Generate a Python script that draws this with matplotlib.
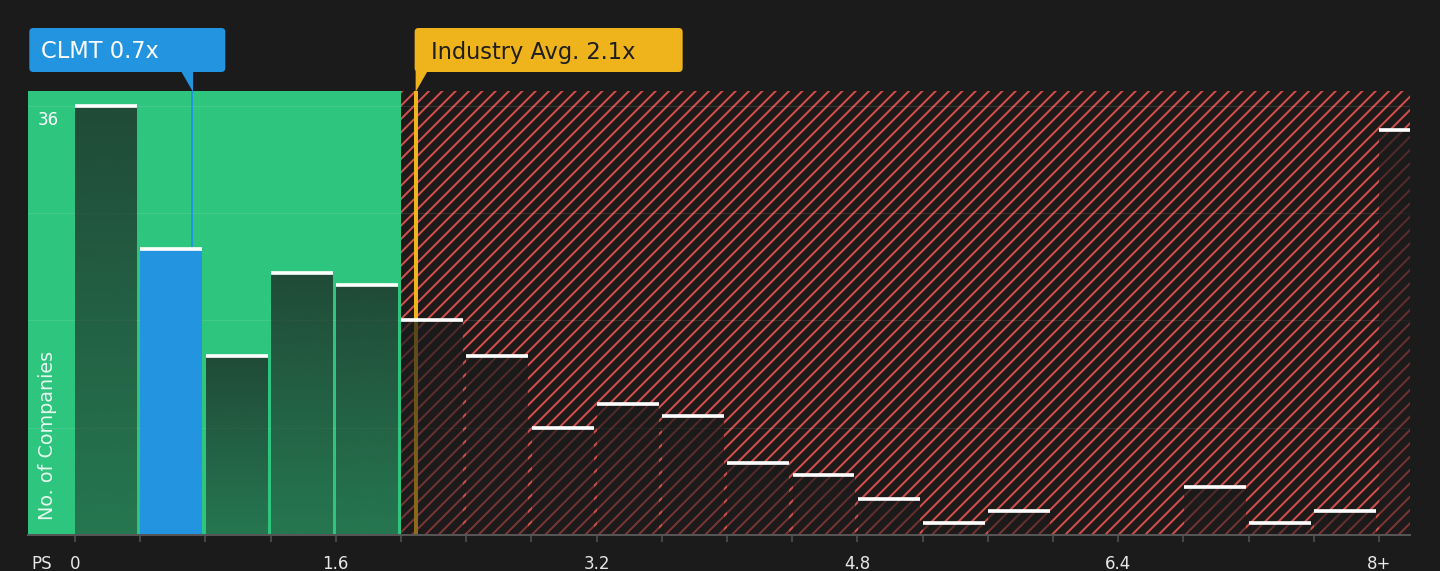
import numpy as np
import matplotlib.pyplot as plt
from matplotlib.patches import Polygon, FancyBboxPatch
from matplotlib.transforms import IdentityTransform, blended_transform_factory

# histogram of peer P/S ratios
bin_starts = [0.0, 0.4, 0.8, 1.2, 1.6, 2.0, 2.4, 2.8, 3.2, 3.6, 4.0,
              4.4, 4.8, 5.2, 5.6, 6.0, 6.4, 6.8, 7.2, 7.6, 8.0]
counts = [36, 24, 15, 22, 21, 18, 15, 9, 11, 10, 6,
          5, 3, 1, 2, 0, 0, 4, 1, 2, 34]
tick_labels = ['0', '', '', '', '1.6', '', '', '', '3.2', '', '',
               '', '4.8', '', '', '', '6.4', '', '', '', '8+']
y_grid = [9, 18, 27, 36]

clmt_ps = 0.72
clmt_label = 'CLMT 0.7x'
industry_ps = 2.09
industry_label = 'Industry Avg. 2.1x'
fair_max = 2.0

BG = '#1b1b1b'
GREEN = '#2ec57e'
RED = '#d24f4c'
BLUE = '#2394df'
YELLOW = '#efb31b'

W, H, DPI = 1440, 571, 120
plt.rcParams['hatch.linewidth'] = 1.2

fig = plt.figure(figsize=(W / DPI, H / DPI), dpi=DPI, facecolor=BG)
ax = fig.add_axes([28 / W, 1 - 535 / H, 1382 / W, 444 / H])
ax.set_facecolor(BG)
x_min, x_max = -0.288, 8.19
ax.set_xlim(x_min, x_max)
ax.set_ylim(0, 37.25)

# background zones
ax.axvspan(x_min, fair_max, facecolor=GREEN, edgecolor='none', zorder=1)
ax.axvspan(fair_max, x_max, facecolor='#1e1a1a', edgecolor=RED, hatch='///',
           linewidth=0, zorder=1)

for g in y_grid:
    ax.axhline(g, color='white', alpha=0.1, lw=0.6, zorder=1.5)

ax.axvline(clmt_ps, color=BLUE, lw=1.2, zorder=2)
ax.axvline(industry_ps, color=YELLOW, lw=2.4, zorder=2)

# bars: dark gradient overlay, highlighted bin in blue
bar_w = 0.38
grad = np.zeros((256, 1, 4))
grad[:, 0, 0:3] = np.array([27, 27, 27]) / 255
grad[:, 0, 3] = np.linspace(0.72, 0.46, 256)
for x0, c in zip(bin_starts, counts):
    if c == 0:
        continue
    left = x0 + 0.002
    if x0 <= clmt_ps < x0 + 0.4:
        ax.bar(left, c, width=bar_w, align='edge', color=BLUE, zorder=3)
    else:
        ax.imshow(grad, extent=(left, left + bar_w, 0, c), aspect='auto',
                  interpolation='bilinear', zorder=3)
    ax.hlines(c, left, left + bar_w, colors='white', lw=2.2, zorder=4)

ax.set_xlim(x_min, x_max)
ax.set_ylim(0, 37.25)

for s in ['top', 'right', 'left']:
    ax.spines[s].set_visible(False)
ax.spines['bottom'].set_color('#555555')
ax.spines['bottom'].set_linewidth(1.2)
ax.spines['bottom'].set_zorder(5)

ax.set_xticks(bin_starts)
ax.set_xticklabels(tick_labels)
ax.tick_params(axis='x', length=4.2, width=0.9, color='#555555',
               labelcolor='#e8e8e8', labelsize=10, pad=8)
ax.set_yticks([])

trans = blended_transform_factory(ax.transAxes, ax.transData)
ax.text(10 / 1382, y_grid[-1] - 1.2, str(y_grid[-1]), transform=trans,
        color='white', fontsize=10, ha='left', va='center', zorder=6)
ax.text(20 / 1382, 1.25, 'No. of Companies', transform=trans, rotation=90,
        color='white', alpha=0.88, fontsize=11.5, ha='center', va='bottom',
        zorder=6)
ax.text(14 / 1382, -29 / 444, 'PS', transform=ax.transAxes, color='#e8e8e8',
        fontsize=10, ha='center', va='center')


def callout(value, label, color, txt_color, left_off, right_off, tip_left):
    # pixel coords, measured from the top of the image
    tip = ax.transData.transform((value, 0))[0]
    x0, x1, y0, y1 = tip - left_off, tip + right_off, 28, 72
    box = FancyBboxPatch((x0, H - y1), x1 - x0, y1 - y0,
                         boxstyle='round,pad=0,rounding_size=4',
                         facecolor=color, edgecolor='none',
                         transform=IdentityTransform())
    fig.add_artist(box)
    if tip_left:
        pts = [(tip, H - 71), (tip + 12, H - 71), (tip, H - 92)]
    else:
        pts = [(tip - 11, H - 71), (tip + 1, H - 71), (tip + 1, H - 92)]
    fig.add_artist(Polygon(pts, closed=True, facecolor=color, edgecolor='none',
                           transform=IdentityTransform()))
    fig.text((x0 + 12 if not tip_left else x0 + 16) / W, 1 - 58.5 / H, label,
             color=txt_color, fontsize=13.5, ha='left', va='baseline')


callout(clmt_ps, clmt_label, BLUE, 'white', 163, 33, False)
callout(industry_ps, industry_label, YELLOW, '#1e1e1e', 1, 267, True)

fig.savefig('out.png', dpi=DPI, facecolor=BG)
